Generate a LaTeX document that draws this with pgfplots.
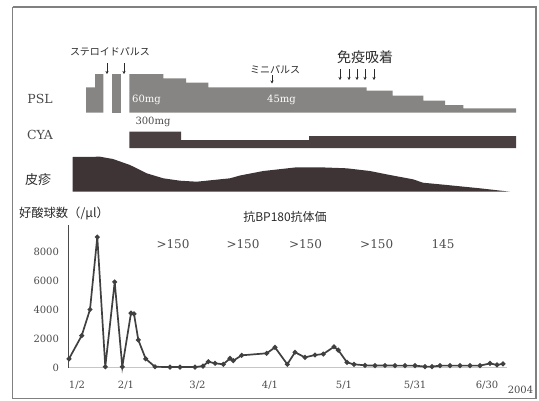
\documentclass[border=0pt]{standalone}
\usepackage{pgfplots}
\pgfplotsset{compat=1.18}
\usetikzlibrary{arrows.meta}
\usepackage{fontspec}
\setmainfont{DejaVu Serif}
\newfontfamily\jp{Noto Sans CJK JP}
\definecolor{pslc}{HTML}{878583}
\definecolor{cyac}{HTML}{4A4041}
\definecolor{skinc}{HTML}{3E3435}
\definecolor{txt}{HTML}{4A4A4A}
\definecolor{jtxt}{HTML}{2A2A2A}
\definecolor{framec}{HTML}{808080}
\newcommand{\fs}[1]{\fontsize{#1}{#1}\selectfont}
\tikzset{arr/.style={-{Stealth[length=3pt,width=3pt]}, jtxt, line width=0.5pt}}
\begin{document}
\begin{tikzpicture}
\path[use as bounding box] (0,0) rectangle (539pt,400pt);
\begin{axis}[at={(0pt,0pt)}, anchor=south west, width=539pt, height=400pt,
  scale only axis, xmin=0, xmax=539, ymin=0, ymax=400, y dir=reverse,
  hide axis, clip=false]
% frame
\addplot[draw=framec, line width=1.2pt] coordinates {(12.7,7) (536,7) (536,398.5) (12.7,398.5) (12.7,7)};
% PSL
\addplot[draw=none, fill=pslc] coordinates {(86,112.6) (86,87.3) (95,87.3) (95,74) (103.3,74) (103.3,112.6)};
\addplot[draw=none, fill=pslc] coordinates {(111.7,112.6) (111.7,74) (120.7,74) (120.7,112.6)};
\addplot[draw=none, fill=pslc] coordinates {(129.3,112.6) (129.3,74) (163.3,74) (163.3,78.3) (186,78.3) (186,82.7) (208.3,82.7) (208.3,87.3) (366.7,87.3) (366.7,90.7) (392.7,90.7) (392.7,95.7) (423.3,95.7) (423.3,100.7) (445,100.7) (445,105) (463.3,105) (463.3,108.3) (516,108.3) (516,112.6)};
% CYA
\addplot[draw=none, fill=cyac] coordinates {(129.3,148) (129.3,131.7) (181,131.7) (181,140) (309,140) (309,136) (516,136) (516,148)};
% skin
\addplot[draw=none, fill=skinc] coordinates {(72.7,191.7) (72.7,157) (100,156.7) (113,159) (130,165) (146.7,173.3) (163.3,178.3) (180,180.7) (196.7,181.7) (213.3,180) (230,178.3) (240,175.5) (263.3,171) (296.7,167.3) (320,167.3) (346.7,168.3) (370,171) (390,175) (413,179.3) (423,182.7) (447,185) (480,188.3) (510,191.7)};
% labels
\node[font=\fs{12.5}, text=txt] at (axis cs:40,99) {PSL};
\node[font=\fs{12.5}, text=txt] at (axis cs:40,135) {CYA};
\node[font=\jp\fs{13}, text=jtxt] at (axis cs:38,180) {皮疹};
\node[font=\jp\fs{10}, text=jtxt] at (axis cs:110,52) {ステロイドパルス};
\node[font=\jp\fs{10}, text=jtxt] at (axis cs:275,70) {ミニパルス};
\node[font=\jp\fs{14}, text=jtxt] at (axis cs:365,57) {免疫吸着};
\node[font=\fs{10}, text=white] at (axis cs:146.5,100) {60mg};
\node[font=\fs{10}, text=white] at (axis cs:281.5,100) {45mg};
\node[font=\fs{10}, text=txt] at (axis cs:153,121.7) {300mg};
\draw[arr] (axis cs:107,63) -- (axis cs:107,74);
\draw[arr] (axis cs:124,63) -- (axis cs:124,74);
\draw[arr] (axis cs:272,75) -- (axis cs:272,83.5);
\draw[arr] (axis cs:340,69) -- (axis cs:340,80);
\draw[arr] (axis cs:349,69) -- (axis cs:349,80);
\draw[arr] (axis cs:357,69) -- (axis cs:357,80);
\draw[arr] (axis cs:365,69) -- (axis cs:365,80);
\draw[arr] (axis cs:374,69) -- (axis cs:374,80);
\node[font=\jp\fs{12.3}, text=jtxt, anchor=west] at (axis cs:15.5,213) {好酸球数（/μl）};
\node[font=\jp\fs{12}, text=jtxt] at (axis cs:285,217) {抗BP180抗体価};
\node[font=\fs{12}, text=txt] at (axis cs:173,244) {>150};
\node[font=\fs{12}, text=txt] at (axis cs:243,244) {>150};
\node[font=\fs{12}, text=txt] at (axis cs:305.5,244) {>150};
\node[font=\fs{12}, text=txt] at (axis cs:376.7,244) {>150};
\node[font=\fs{12}, text=txt] at (axis cs:443,244) {145};
\node[font=\fs{10}, text=txt] at (axis cs:520.5,390) {2004};
\end{axis}
\begin{axis}[at={(68pt,32.5pt)}, anchor=south west, width=439pt, height=142.5pt,
  scale only axis, xmin=68, xmax=507, ymin=0, ymax=9830,
  axis lines=left,
  x axis line style={-, draw=gray!45, line width=0.8pt},
  y axis line style={-, draw=txt, line width=0.7pt},
  ytick={0,2000,4000,6000,8000},
  xtick={77,126,197.5,270,344,415,487},
  xticklabels={1/2,2/1,3/2,4/1,5/1,5/31,6/30},
  major tick length=0pt,
  tick label style={font=\fs{10}, text=txt},
  /pgf/number format/assume math mode=true,
  /pgf/number format/1000 sep={},
  yticklabel style={xshift=-5.5pt},
  xticklabel style={yshift=-10pt},
  clip=false]
\addplot[color=black!75, line width=1.7pt, mark=*, mark size=1.5pt] coordinates {
(69,600) (81.7,2200) (90,4000) (97.3,9000) (105.3,50) (114.7,5900) (122.3,50)
(131,3750) (134,3700) (138.3,1900) (145.7,600) (155,50) (170,30) (180,30) (195,30)
(203,100) (208.3,400) (215,290) (223.3,220) (230,630) (233.3,470) (241.7,840)
(266.7,980) (275,1390) (287.3,220) (295,1050) (305,700) (315,860) (323.3,930)
(334,1430) (338.3,1200) (347,350) (354,220) (365,150) (375,130) (385,140) (395,130)
(405,130) (415,130) (425,60) (432,60) (440,130) (450,130) (460,130) (470,130)
(480,130) (490,280) (497,180) (503,250)};
\end{axis}
\end{tikzpicture}
\end{document}
